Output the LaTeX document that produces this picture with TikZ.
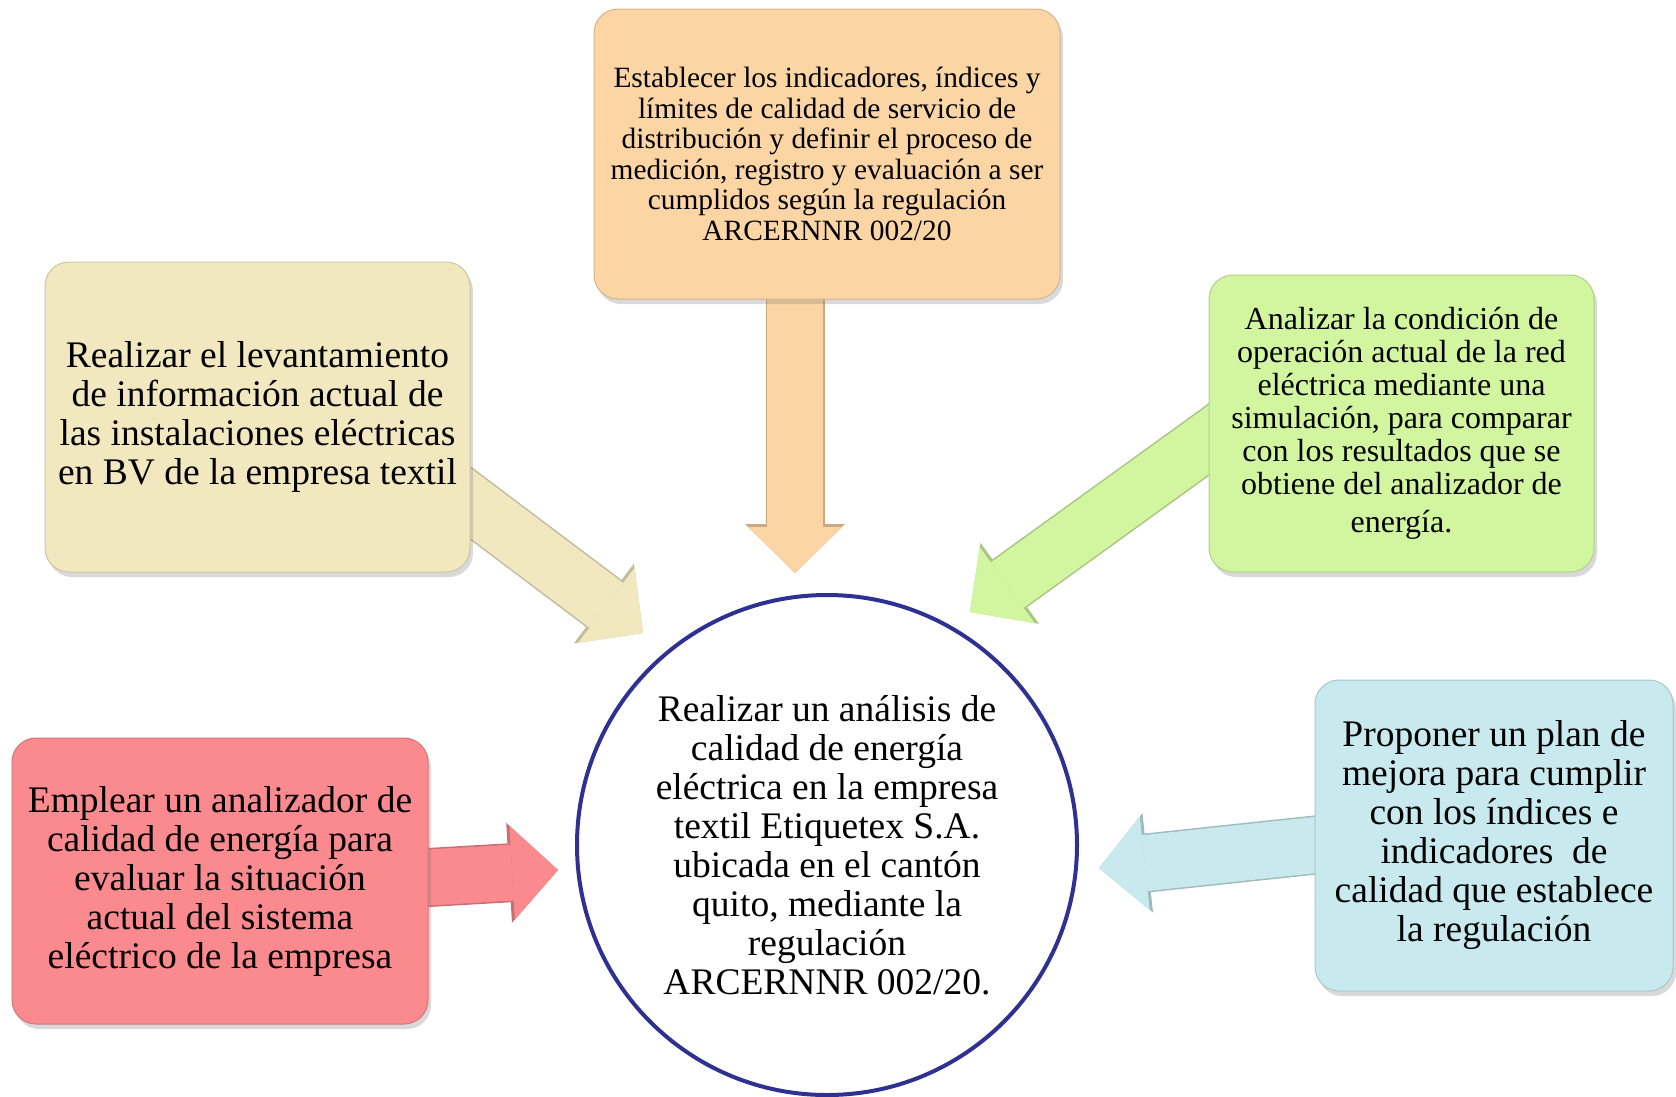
\documentclass[tikz,border=0pt]{standalone}
\usepackage{fontspec}
\setmainfont{Liberation Serif}
\usetikzlibrary{arrows.meta,shadows,backgrounds}
\definecolor{cOrange}{HTML}{FCD5A5}
\definecolor{cBeige}{HTML}{F2E8C0}
\definecolor{cGreen}{HTML}{D2F5A0}
\definecolor{cRed}{HTML}{FA8A8E}
\definecolor{cBlue}{HTML}{C8EAEE}
\definecolor{cNavy}{HTML}{2E3192}

\begin{document}
\begin{tikzpicture}[x=1pt,y=-1pt,
  box/.style={rounded corners=24pt, draw=#1!85!black, line width=1pt, fill=#1, align=center,
    drop shadow={shadow xshift=3pt, shadow yshift=-5pt, opacity=.3}},
  big/.style={font=\fontsize{37.5}{39}\selectfont},
  fat/.style={line width=56pt, draw=#1, -{Triangle[length=46pt,width=94pt,line width=0pt]}},
  fatrim/.style={line width=59pt, draw=#1!80!black, -{Triangle[length=49pt,width=100pt,line width=0pt]}}]
\useasboundingbox (0,0) rectangle (1676,1096);
\node[box=cOrange, minimum width=466pt, minimum height=290pt, font=\fontsize{29.4}{30.5}\selectfont] (norm) at (827,154)
  {Establecer los indicadores, índices y\\ límites de calidad de servicio de\\ distribución y definir el proceso de\\ medición, registro y evaluación a ser\\ cumplidos según la regulación\\ ARCERNNR 002/20};
\node[box=cBeige, minimum width=425pt, minimum height=310pt, big] (lev) at (257.5,417)
  {Realizar el levantamiento\\ de información actual de\\ las instalaciones eléctricas\\ en BV de la empresa textil};
\node[box=cGreen, minimum width=385pt, minimum height=297pt, font=\fontsize{32}{33}\selectfont] (sim) at (1401.5,423.5)
  {Analizar la condición de\\ operación actual de la red\\ eléctrica mediante una\\ simulación, para comparar\\ con los resultados que se\\ obtiene del analizador de\\[5.5pt] energía.};
\node[box=cRed, minimum width=416pt, minimum height=286pt, big] (anl) at (220,881)
  {Emplear un analizador de\\ calidad de energía para\\ evaluar la situación\\ actual del sistema\\ eléctrico de la empresa};
\node[box=cBlue, minimum width=358pt, minimum height=311pt, big] (plan) at (1494,835.5)
  {Proponer un plan de\\ mejora para cumplir\\ con los índices e\\ indicadores\ \ de\\ calidad que establece\\ la regulación};
\node[circle, draw=cNavy, line width=4pt, fill=white, minimum size=500pt, align=center, big] (obj) at (827,845)
  {Realizar un análisis de\\ calidad de energía\\ eléctrica en la empresa\\ textil Etiquetex S.A.\\ ubicada en el cantón\\ quito, mediante la\\ regulación\\ ARCERNNR 002/20.};
% tips and tails of the block arrows
\coordinate (tN) at (795,573); \coordinate (tW) at (643,633); \coordinate (tE) at (970,612);
\coordinate (tSW) at (558,870); \coordinate (tSE) at (1099,868);
\coordinate (sW) at (400,450); \coordinate (sE) at (1290,381);
\coordinate (sSW) at (350,882); \coordinate (sSE) at (1400,836);
\begin{scope}[on background layer]
\draw[fatrim=cOrange] (norm.center -| tN) -- (tN); \draw[fat=cOrange] (norm.center -| tN) -- (tN);
\draw[fatrim=cBeige] (sW) -- (tW); \draw[fat=cBeige] (sW) -- (tW);
\draw[fatrim=cGreen] (sE) -- (tE); \draw[fat=cGreen] (sE) -- (tE);
\draw[fatrim=cRed] (sSW) -- (tSW); \draw[fat=cRed] (sSW) -- (tSW);
\draw[fatrim=cBlue] (sSE) -- (tSE); \draw[fat=cBlue] (sSE) -- (tSE);
\end{scope}
\end{tikzpicture}
\end{document}
